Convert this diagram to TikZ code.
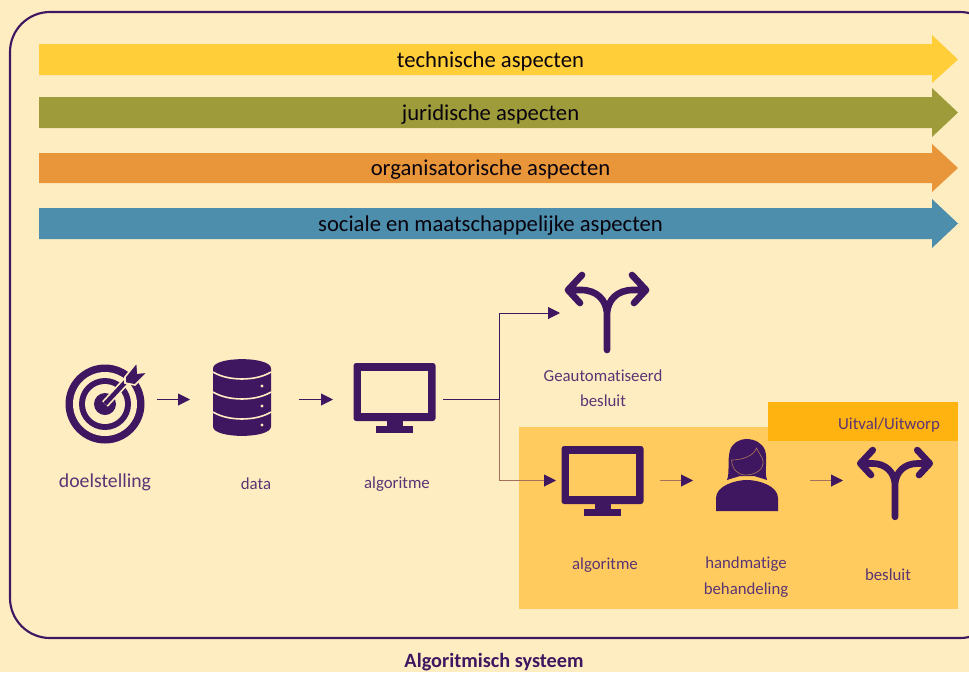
\documentclass[tikz,border=0pt]{standalone}
\usepackage{fontspec}
\setmainfont[Ligatures=CommonOff]{Carlito}
\usetikzlibrary{arrows.meta}
\definecolor{cream}{HTML}{FFEDC2}
\definecolor{paars}{HTML}{3F1660}
\definecolor{paarstekst}{HTML}{5A3474}
\definecolor{shaft}{HTML}{A5715A}
\definecolor{geel}{HTML}{FFCE38}
\definecolor{olijf}{HTML}{9E9C3A}
\definecolor{oranje}{HTML}{E9963A}
\definecolor{blauw}{HTML}{4C8EAB}
\definecolor{vlak}{HTML}{FFCB5E}
\definecolor{uitval}{HTML}{FFB310}
\tikzset{
  bandtext/.style={text=black!85!paars, font=\fontsize{17}{19}\selectfont, inner sep=0pt},
  lbl/.style={text=paarstekst, font=\fontsize{12.6}{19}\selectfont, inner sep=0pt, align=center},
  anchorbox/.style={inner sep=0pt, outer sep=0pt, minimum height=1pt},
  flow/.style={draw=paars, line width=0.7pt, -{Triangle[length=9pt,width=9pt,color=paars]}},
  flowin/.style={flow, draw=shaft},
  monitor/.pic={
    \fill[paars, rounded corners=2pt] (-41,-35) rectangle (41,23);
    \fill[pic actions] (-33.5,-27) rectangle (33.5,15);
    \fill[paars] (-8,23) rectangle (8,29);
    \fill[paars] (-18.5,28) rectangle (18.5,35);
  },
  forkicon/.pic={
    \draw[paars, line width=5pt, line cap=round, line join=round, pic actions]
      (0,47) -- (0,10) .. controls (-1,-3) and (-10,-13) .. (-26,-13) -- (-38,-13)
      (0,10) .. controls (1,-3) and (10,-13) .. (26,-13) -- (38,-13)
      (-25,-28) -- (-39,-13) -- (-27,0)
      (25,-28) -- (39,-13) -- (27,0);
  },
  doelicon/.pic={
    \fill[paars] (0,0) circle (39.5);
    \fill[cream] (0,0) circle (32);
    \fill[paars] (0,0) circle (26);
    \fill[cream] (0,0) circle (20);
    \fill[paars] (0,0) circle (11);
    \draw[cream, line width=6pt] (0,0) -- (26,-28);
    \draw[paars, line width=3.4pt] (0,0) -- (26,-28);
    \filldraw[paars, draw=cream, line width=1.2pt] (20,-27) -- (32,-42) -- (33,-31) -- (43,-32) -- (30,-19) -- (20,-21) -- cycle;
  },
  dataicon/.pic={
    \fill[paars] (-29,-29) .. controls (-29,-41.5) and (29,-41.5) .. (29,-29) -- (29,29)
      .. controls (29,41.5) and (-29,41.5) .. (-29,29) -- cycle;
    \foreach \ya in {-25.5,-5.5,14.5}
      \draw[cream, line width=1.2pt] (-29,\ya) .. controls (-14,\ya+9.3) and (14,\ya+9.3) .. (29,\ya);
    \foreach \yb in {-11.5,8.5,27.5}
      \fill[cream] (20,\yb) circle (1.6);
  },
  persoonicon/.pic={
    \fill[paars] (-31,31) -- (-31,18) .. controls (-31,6) and (-12,0) .. (0,0)
      .. controls (12,0) and (31,6) .. (31,18) -- (31,31) -- cycle;
    \fill[paars] (-20,0) .. controls (-17,-8) and (-20,-18) .. (-17,-30)
      .. controls (-14,-38) and (-6,-41) .. (-1,-41)
      .. controls (8,-41) and (15,-37) .. (18,-30)
      .. controls (21,-20) and (17,-8) .. (20,0)
      .. controls (14,-2) and (10,-3) .. (7,-4) -- (-7,-4) .. controls (-10,-3) and (-14,-2) .. (-20,0) -- cycle;
    \draw[shaft, line width=0.5pt] (-15.5,-20) .. controls (-15,-10) and (-8,-5) .. (-2,-5)
      .. controls (8,-5) and (17,-10) .. (16,-19)
      (-15.5,-20) .. controls (-5,-20) and (7,-24) .. (9.5,-32)
      .. controls (12,-26) and (15,-24) .. (16,-19);
  }
}
\begin{document}
\begin{tikzpicture}[x=0.75pt,y=-0.75pt]
    \useasboundingbox (0,0) rectangle (969,672);
    \clip (0,0) rectangle (969,672);
    \fill[cream] (0,0) rectangle (969,672);
    \draw[paars, line width=1.6pt, rounded corners=30pt] (10,12) rectangle (1000,638);

    % aspecten
    \fill[geel] (39,44) -- (932,44) -- (932,35) -- (958,59.5) -- (932,83) -- (932,75) -- (39,75) -- cycle;
    \fill[olijf] (39,97) -- (932,97) -- (932,88) -- (958,112.5) -- (932,137) -- (932,128) -- (39,128) -- cycle;
    \fill[oranje] (39,153) -- (932,153) -- (932,144) -- (958,168) -- (932,192) -- (932,183) -- (39,183) -- cycle;
    \fill[blauw] (39,208) -- (932,208) -- (932,199) -- (958,223.5) -- (932,248) -- (932,239) -- (39,239) -- cycle;
    \node[bandtext] (techniek) at (490.5,61) {technische aspecten};
    \node[bandtext] (juridisch) at (490.5,115) {juridische aspecten};
    \node[bandtext] (organisatie) at (490.5,170) {organisatorische aspecten};
    \node[bandtext] (sociaal) at (490.5,226) {sociale en maatschappelijke aspecten};

    % uitval
    \fill[vlak] (519,427) rectangle (958,609);
    \fill[uitval] (768,402) rectangle (958,441);
    \node[lbl] (uitvallabel) at (889,425) {Uitval/Uitworp};

    % iconen
    \pic at (105,404) {doelicon};
    \pic at (242,397.5) {dataicon};
    \pic[fill=cream] at (394.5,398) {monitor};
    \pic at (607,303) {forkicon};
    \pic[fill=vlak] at (602.5,481) {monitor};
    \pic at (747,480) {persoonicon};
    \pic[scale=0.89] at (895,475) {forkicon};

    \node[anchorbox, minimum width=104*0.75pt] (doel) at (105,399.5) {};
    \node[anchorbox, minimum width=104*0.75pt] (data) at (242,399.5) {};
    \node[anchorbox, minimum width=123*0.75pt] (algo) at (394.5,399.5) {};
    \node[anchorbox, minimum width=94*0.75pt] (besluit) at (607,313) {};
    \node[anchorbox, minimum width=93*0.75pt] (algohand) at (602.5,480.5) {};
    \node[anchorbox, minimum width=108*0.75pt] (persoon) at (747,480.5) {};
    \node[anchorbox, minimum width=104*0.75pt] (besluithand) at (895,480.5) {};
    \coordinate (split) at (499,399.5);

    \draw[flow] (doel.east) -- (data.west);
    \draw[flow, shorten <=3.5pt] (data.east) -- (algo.west);
    \draw[draw=paars, line width=0.7pt, shorten <=-9.5pt] (algo.east) -- (split);
    \draw[flow] (split) |- (besluit.west);
    \draw[flowin] (split) |- (algohand.west);
    \draw[flowin, shorten <=8.25pt] (algohand.east) -- (persoon.west);
    \draw[flowin, shorten <=6.75pt] (persoon.east) -- (besluithand.west);

    % labels
    \node[lbl, font=\fontsize{14.8}{16}\selectfont] (doellabel) at (105,482) {doelstelling};
    \node[lbl] (datalabel) at (256,484) {data};
    \node[lbl] (algolabel) at (397,484) {algoritme};
    \node[lbl] (besluitlabel) at (603,388.5) {Geautomatiseerd\\besluit};
    \node[lbl] (algohandlabel) at (605,565.5) {algoritme};
    \node[lbl] (persoonlabel) at (746,577) {handmatige\\behandeling};
    \node[lbl] (besluithandlabel) at (888,575) {besluit};
    \node[lbl, text=paars, font=\bfseries\fontsize{15.2}{17}\selectfont] (titel) at (494,662) {Algoritmisch systeem};
\end{tikzpicture}
\end{document}
